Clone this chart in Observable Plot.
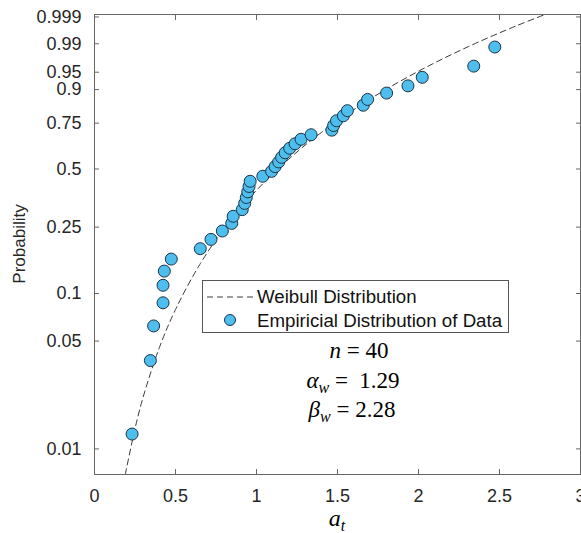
<!DOCTYPE html>
<html><head><meta charset="utf-8">
<script src="https://cdn.jsdelivr.net/npm/d3@7"></script>
<script src="https://cdn.jsdelivr.net/npm/@observablehq/plot@0.6"></script>
<style>body{margin:0;background:#fff} #chart svg{display:block}</style>
</head><body><div id="chart"></div>
<script>
// ---- data ----
const probTicks = [0.01, 0.05, 0.1, 0.25, 0.5, 0.75, 0.9, 0.95, 0.99, 0.999];
const probLabels = ["0.01", "0.05", "0.1", "0.25", "0.5", "0.75", "0.9", "0.95", "0.99", "0.999"];
const xTicks = [0, 0.5, 1, 1.5, 2, 2.5, 3];
const xTickLabels = ["0", "0.5", "1", "1.5", "2", "2.5", "3"];

// empirical points (a_t, probability)
const empX = [0.232, 0.345, 0.365, 0.423, 0.423, 0.431, 0.474, 0.653, 0.719, 0.789,
              0.847, 0.856, 0.912, 0.927, 0.937, 0.946, 0.954, 0.961, 1.039, 1.093,
              1.115, 1.137, 1.155, 1.177, 1.205, 1.238, 1.275, 1.337, 1.465, 1.476,
              1.494, 1.536, 1.561, 1.659, 1.686, 1.803, 1.935, 2.023, 2.341, 2.471];
const empP = [0.0125, 0.0375, 0.0625, 0.0875, 0.1125, 0.1375, 0.1625, 0.1875, 0.2125, 0.2375,
              0.2625, 0.2875, 0.3125, 0.3375, 0.3625, 0.3875, 0.4125, 0.4375, 0.4625, 0.4875,
              0.5125, 0.5375, 0.5625, 0.5875, 0.6125, 0.6375, 0.6625, 0.6875, 0.7125, 0.7375,
              0.7625, 0.7875, 0.8125, 0.8375, 0.8625, 0.8875, 0.9125, 0.9375, 0.9625, 0.9875];

// dashed Weibull distribution curve (a_t, probability)
const fitX = [0.19, 0.25, 0.3, 0.4, 0.5, 0.65, 0.8, 1.0, 1.2, 1.4, 1.7, 2.0, 2.3, 2.6, 2.8];
const fitP = [0.0068, 0.01355, 0.0217, 0.0453, 0.0794, 0.1509, 0.2448, 0.3944, 0.5533, 0.6997,
              0.8637, 0.9522, 0.98739, 0.99756, 0.99932];

const legendLabels = ["Weibull Distribution", "Empiricial Distribution of Data"];
const annotation = {n: "40", alpha: "1.29", beta: "2.28"};

// Weibull probability-paper transform
const wb = p => Math.log(-Math.log(1 - p));
const points = empX.map((x, i) => ({x, y: wb(empP[i])}));
const curve = fitX.map((x, i) => ({x, y: wb(fitP[i])}));
const yTickVals = probTicks.map(wb);
const yFmt = v => probLabels[yTickVals.findIndex(t => Math.abs(t - v) < 1e-9)];
const xFmt = v => xTickLabels[xTicks.findIndex(t => Math.abs(t - v) < 1e-9)];

const tickColor = "#666";
const plot = Plot.plot({
  width: 581, height: 533,
  marginLeft: 94, marginRight: 1, marginTop: 14, marginBottom: 59,
  style: {fontFamily: "'Liberation Sans', Arial, sans-serif", fontSize: "18px", color: "#262626", background: "#fff"},
  x: {domain: [0, 3]},
  y: {domain: [wb(0.0068), wb(0.99923)]},
  marks: [
    Plot.axisX({anchor: "bottom", ticks: xTicks, tickFormat: xFmt, tickSize: 0, tickPadding: 15, label: null, fontSize: 18}),
    Plot.axisY({anchor: "left", ticks: yTickVals, tickFormat: yFmt, tickSize: 0, tickPadding: 13, label: null, fontSize: 18}),
    Plot.axisX({anchor: "bottom", ticks: xTicks, tickFormat: () => "", tickSize: 5, dy: -5, stroke: tickColor, label: null}),
    Plot.axisX({anchor: "top", ticks: xTicks, tickFormat: () => "", tickSize: 5, dy: 5, stroke: tickColor, label: null}),
    Plot.axisY({anchor: "left", ticks: yTickVals, tickFormat: () => "", tickSize: 5, dx: 5, stroke: tickColor, label: null}),
    Plot.axisY({anchor: "right", ticks: yTickVals, tickFormat: () => "", tickSize: 5, dx: -5, stroke: tickColor, label: null}),
    Plot.line(curve, {x: "x", y: "y", stroke: "#3a3a3a", strokeWidth: 1, strokeDasharray: "6,4", curve: "catmull-rom", clip: true}),
    Plot.dot(points, {x: "x", y: "y", r: 6, fill: "#4DBEEE", stroke: "#1c3344", strokeWidth: 1}),
    Plot.frame({stroke: tickColor, strokeWidth: 1})
  ]
});
document.getElementById("chart").append(plot);

const svg = d3.select(plot);
const ns = "'Liberation Sans', Arial, sans-serif";
const serif = "'Liberation Serif', 'DejaVu Serif', serif";

// legend
const lg = svg.append("g").attr("text-anchor", "start");
lg.append("rect").attr("x", 202.5).attr("y", 280.5).attr("width", 306).attr("height", 52)
  .attr("fill", "#fff").attr("stroke", "#555").attr("stroke-width", 1);
lg.append("line").attr("x1", 207).attr("x2", 253).attr("y1", 297).attr("y2", 297)
  .attr("stroke", "#3a3a3a").attr("stroke-dasharray", "6,4");
lg.append("circle").attr("cx", 230).attr("cy", 320).attr("r", 5.5)
  .attr("fill", "#4DBEEE").attr("stroke", "#1c3344");
legendLabels.forEach((t, i) => {
  lg.append("text").attr("x", 257).attr("y", 303 + i * 24).attr("text-anchor", "start")
    .attr("font-family", ns).attr("font-size", 18.7).attr("fill", "#111").text(t);
});

// parameter annotation
const ann = svg.append("g").attr("font-family", serif).attr("font-size", 23).attr("fill", "#000").attr("text-anchor", "middle");
function mathLine(y, sym, sub, val, cx) {
  const t = ann.append("text").attr("x", cx).attr("y", y).attr("xml:space", "preserve");
  t.append("tspan").attr("font-style", "italic").text(sym);
  if (sub) t.append("tspan").attr("font-style", "italic").attr("font-size", 16).attr("dy", 5).text(sub);
  const rest = t.append("tspan").text(" = " + val);
  if (sub) rest.attr("dy", -5);
}
mathLine(358, "n", null, annotation.n, 359);
mathLine(388, "α", "w", " " + annotation.alpha, 353);
mathLine(417, "β", "w", annotation.beta, 352);

// axis titles
const xl = svg.append("text").attr("x", 337).attr("y", 526).attr("text-anchor", "middle")
  .attr("font-family", serif).attr("font-size", 24).attr("fill", "#000");
xl.append("tspan").attr("font-style", "italic").text("a");
xl.append("tspan").attr("font-style", "italic").attr("font-size", 16).attr("dy", 5).text("t");
svg.append("text").attr("transform", "translate(25,244) rotate(-90)").attr("text-anchor", "middle")
  .attr("font-family", ns).attr("font-size", 17).attr("fill", "#262626").text("Probability");
</script>
</body></html>
